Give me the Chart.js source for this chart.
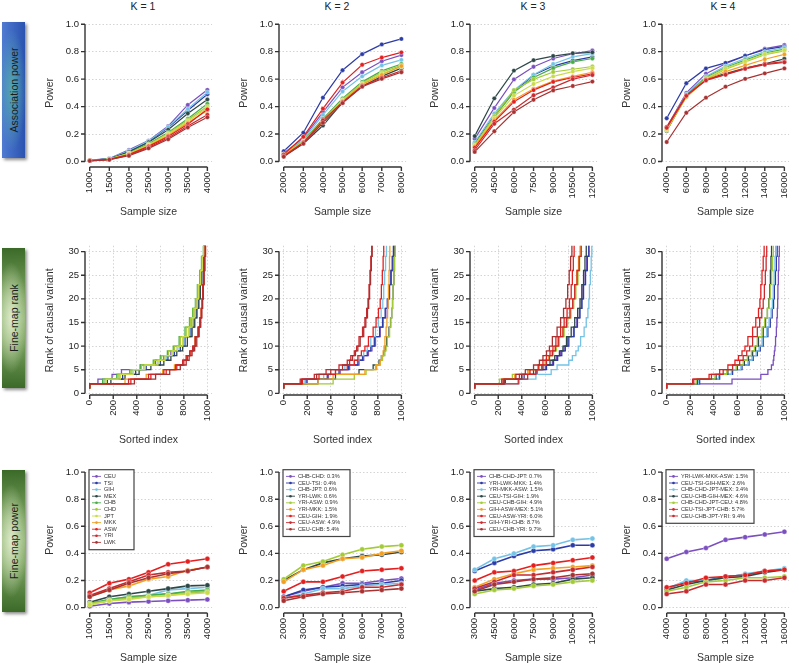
<!DOCTYPE html>
<html>
<head>
<meta charset="utf-8">
<script src="https://cdn.jsdelivr.net/npm/chart.js@4.4.0/dist/chart.umd.min.js"></script>
<style>
  html, body { margin: 0; padding: 0; background: #fff; overflow: hidden; }
  #fig { position: relative; width: 799px; height: 663px; font-family: "Liberation Sans", Arial, sans-serif; }
  .k { position: absolute; top: 0; font-size: 10.5px; color: #222; transform: translateX(-50%); white-space: nowrap; }
  .rowlab { position: absolute; left: 2px; width: 23px; box-shadow: 2px 2px 3px rgba(0,0,0,0.45); }
  .rowlab span { position: absolute; left: 50%; top: 50%; transform: translate(-50%, -50%) rotate(-90deg);
                 white-space: nowrap; font-size: 10.5px; color: #1c1c1c; }
  .blue { background: radial-gradient(ellipse 60% 45% at 45% 50%, rgba(90,190,165,0.75), rgba(90,190,165,0) 100%),
                      linear-gradient(to right, #4f7bd2, #2a52b0); }
  .green { background: radial-gradient(ellipse 70% 40% at 40% 50%, rgba(225,238,205,0.95), rgba(225,238,205,0) 100%),
                       linear-gradient(to bottom, #3b6a28 0%, #7ea562 35%, #8fb374 50%, #7ea562 65%, #3b6a28 100%); }
</style>
</head>
<body>
<div id="fig">
  <div class="rowlab blue" style="top:22px;height:136px"><span>Association power</span></div>
  <div class="rowlab green" style="top:248px;height:140px"><span>Fine-map rank</span></div>
  <div class="rowlab green" style="top:470px;height:142px"><span>Fine-map power</span></div>
  <div class="k" style="left:143px">K = 1</div>
  <div class="k" style="left:337px">K = 2</div>
  <div class="k" style="left:533px">K = 3</div>
  <div class="k" style="left:723px">K = 4</div>
</div>
<script>
// ---- data ----
const sizesK1 = [1000, 1500, 2000, 2500, 3000, 3500, 4000];
const sizesK2 = [2000, 3000, 4000, 5000, 6000, 7000, 8000];
const sizesK3 = [3000, 4500, 6000, 7500, 9000, 10500, 12000];
const sizesK4 = [4000, 6000, 8000, 10000, 12000, 14000, 16000];
const powerTicks = [0, 0.2, 0.4, 0.6, 0.8, 1.0];
const rankTicks = [0, 5, 10, 15, 20, 25, 30];
const indexTicks = [0, 200, 400, 600, 800, 1000];

const popNames = ['CEU', 'TSI', 'GIH', 'MEX', 'CHB', 'CHD', 'JPT', 'MKK', 'ASW', 'YRI', 'LWK'];
const popColors = ['#7b4fbf', '#2c3ca6', '#74c3e6', '#2e4848', '#46ad48', '#a3cb36', '#cbdc4a',
                   '#f2a024', '#e3201f', '#c92a2e', '#a83232'];

// association power, one row per population
const assocK1 = [
  [0.010, 0.022, 0.085, 0.152, 0.258, 0.412, 0.522],
  [0.008, 0.020, 0.072, 0.146, 0.248, 0.372, 0.490],
  [0.009, 0.021, 0.078, 0.150, 0.252, 0.382, 0.505],
  [0.008, 0.020, 0.070, 0.140, 0.232, 0.350, 0.452],
  [0.007, 0.018, 0.062, 0.130, 0.212, 0.312, 0.420],
  [0.007, 0.018, 0.060, 0.124, 0.204, 0.302, 0.402],
  [0.007, 0.017, 0.058, 0.120, 0.200, 0.292, 0.392],
  [0.006, 0.016, 0.052, 0.114, 0.190, 0.282, 0.372],
  [0.006, 0.016, 0.050, 0.110, 0.182, 0.272, 0.380],
  [0.005, 0.014, 0.046, 0.102, 0.172, 0.258, 0.340],
  [0.005, 0.013, 0.042, 0.096, 0.162, 0.248, 0.322]
];
const assocK2 = [
  [0.060, 0.170, 0.360, 0.540, 0.650, 0.730, 0.775],
  [0.075, 0.210, 0.465, 0.665, 0.782, 0.853, 0.893],
  [0.055, 0.160, 0.340, 0.510, 0.620, 0.700, 0.740],
  [0.040, 0.130, 0.262, 0.430, 0.548, 0.620, 0.680],
  [0.050, 0.150, 0.310, 0.460, 0.580, 0.660, 0.710],
  [0.050, 0.148, 0.300, 0.450, 0.570, 0.650, 0.700],
  [0.048, 0.145, 0.295, 0.445, 0.565, 0.640, 0.690],
  [0.045, 0.140, 0.290, 0.440, 0.560, 0.630, 0.695],
  [0.052, 0.180, 0.385, 0.575, 0.705, 0.757, 0.795],
  [0.040, 0.138, 0.300, 0.432, 0.550, 0.610, 0.660],
  [0.035, 0.130, 0.282, 0.425, 0.545, 0.602, 0.650]
];
const assocK3 = [
  [0.165, 0.390, 0.598, 0.690, 0.750, 0.785, 0.808],
  [0.130, 0.335, 0.510, 0.630, 0.695, 0.735, 0.762],
  [0.140, 0.350, 0.520, 0.632, 0.710, 0.762, 0.785],
  [0.185, 0.460, 0.662, 0.738, 0.768, 0.788, 0.795],
  [0.125, 0.325, 0.505, 0.612, 0.680, 0.725, 0.750],
  [0.120, 0.330, 0.520, 0.598, 0.652, 0.672, 0.692],
  [0.115, 0.315, 0.480, 0.565, 0.620, 0.655, 0.680],
  [0.110, 0.300, 0.450, 0.530, 0.585, 0.620, 0.650],
  [0.100, 0.290, 0.435, 0.520, 0.580, 0.612, 0.638],
  [0.082, 0.275, 0.378, 0.482, 0.540, 0.600, 0.630],
  [0.070, 0.220, 0.360, 0.450, 0.518, 0.550, 0.582]
];
const assocK4 = [
  [0.250, 0.500, 0.640, 0.712, 0.768, 0.822, 0.848],
  [0.315, 0.570, 0.678, 0.718, 0.770, 0.815, 0.838],
  [0.240, 0.490, 0.620, 0.695, 0.750, 0.800, 0.830],
  [0.222, 0.480, 0.600, 0.640, 0.680, 0.712, 0.748],
  [0.232, 0.482, 0.612, 0.685, 0.738, 0.790, 0.818],
  [0.228, 0.470, 0.600, 0.672, 0.725, 0.778, 0.805],
  [0.230, 0.475, 0.605, 0.678, 0.730, 0.782, 0.810],
  [0.240, 0.470, 0.595, 0.655, 0.700, 0.745, 0.780],
  [0.252, 0.482, 0.595, 0.635, 0.678, 0.712, 0.728],
  [0.245, 0.478, 0.590, 0.632, 0.675, 0.705, 0.722],
  [0.142, 0.355, 0.465, 0.545, 0.602, 0.642, 0.678]
];

// fine-map rank: sorted index at which each curve reaches each rank step
const rankSteps = [1, 2, 3, 4, 5, 6, 7, 8, 9, 10, 12, 14, 16, 18, 20, 23, 26, 29, 32];
const rankIdxK1 = [
  [0, 70, 190, 270, 430, 560, 630, 690, 745, 790, 840, 868, 892, 910, 925, 943, 958, 970, 980],
  [0, 150, 280, 390, 480, 600, 665, 720, 770, 810, 860, 885, 905, 922, 935, 950, 962, 974, 985],
  [0, 130, 250, 360, 460, 580, 650, 710, 760, 800, 850, 878, 900, 917, 930, 946, 960, 973, 985],
  [0, 180, 300, 420, 520, 630, 690, 740, 790, 830, 870, 893, 912, 928, 940, 953, 965, 976, 985],
  [0, 110, 230, 340, 430, 540, 600, 660, 710, 760, 810, 848, 875, 898, 915, 935, 950, 966, 980],
  [0, 120, 240, 350, 440, 550, 610, 670, 720, 770, 820, 855, 880, 902, 920, 940, 955, 968, 980],
  [0, 140, 260, 370, 470, 580, 640, 700, 745, 790, 840, 870, 893, 912, 925, 943, 958, 971, 982],
  [0, 300, 480, 620, 720, 790, 820, 850, 875, 895, 920, 935, 947, 955, 962, 970, 976, 983, 990],
  [0, 350, 520, 650, 740, 800, 830, 860, 882, 900, 925, 940, 950, 957, 963, 970, 977, 984, 990],
  [0, 330, 500, 630, 730, 790, 820, 850, 875, 895, 920, 936, 947, 955, 961, 968, 975, 982, 988],
  [0, 380, 560, 680, 770, 820, 845, 870, 892, 910, 930, 944, 953, 960, 966, 972, 978, 984, 990]
];
const rankIdxK2 = [
  [0, 200, 380, 480, 560, 640, 680, 720, 750, 780, 820, 845, 868, 885, 900, 915, 928, 937, 945],
  [0, 190, 370, 470, 550, 630, 670, 710, 740, 770, 815, 840, 862, 880, 895, 910, 922, 932, 940],
  [0, 180, 340, 440, 520, 600, 640, 680, 710, 740, 780, 805, 828, 842, 850, 858, 866, 873, 880],
  [0, 290, 440, 640, 760, 810, 830, 850, 862, 875, 895, 908, 918, 925, 930, 936, 941, 946, 950],
  [0, 420, 600, 700, 780, 820, 840, 860, 870, 880, 900, 910, 918, 925, 930, 936, 942, 948, 955],
  [0, 290, 420, 690, 790, 820, 832, 845, 852, 860, 870, 877, 883, 887, 890, 895, 899, 902, 905],
  [0, 160, 300, 440, 540, 600, 630, 660, 690, 720, 760, 785, 805, 820, 830, 838, 845, 850, 855],
  [0, 140, 260, 360, 470, 540, 570, 600, 620, 640, 670, 690, 705, 716, 725, 733, 740, 748, 755],
  [0, 150, 280, 400, 500, 560, 585, 610, 630, 650, 680, 698, 712, 722, 730, 738, 745, 752, 760]
];
const rankIdxK3 = [
  [0, 240, 400, 520, 600, 660, 695, 730, 760, 790, 840, 868, 890, 907, 920, 938, 952, 968, 985],
  [0, 260, 420, 530, 610, 670, 705, 740, 770, 800, 845, 873, 895, 912, 925, 942, 957, 971, 985],
  [0, 380, 520, 650, 700, 800, 830, 860, 880, 900, 930, 948, 962, 970, 975, 983, 990, 995, 1000],
  [0, 250, 400, 500, 580, 640, 680, 720, 750, 780, 820, 850, 875, 895, 910, 925, 937, 948, 960],
  [0, 210, 320, 450, 540, 600, 635, 670, 695, 720, 760, 790, 818, 842, 860, 878, 892, 903, 912],
  [0, 230, 340, 460, 550, 600, 630, 660, 685, 710, 750, 780, 810, 833, 850, 867, 882, 895, 905],
  [0, 230, 380, 470, 540, 580, 610, 640, 665, 690, 730, 760, 785, 805, 820, 830, 838, 845, 850],
  [0, 370, 450, 520, 570, 610, 635, 660, 685, 710, 750, 780, 810, 833, 850, 870, 888, 905, 918],
  [0, 250, 350, 430, 500, 550, 580, 610, 635, 660, 700, 730, 755, 775, 790, 803, 815, 826, 835]
];
const rankIdxK4 = [
  [0, 555, 800, 860, 890, 905, 910, 915, 920, 925, 932, 936, 940, 943, 945, 949, 953, 957, 960],
  [0, 280, 450, 560, 640, 700, 735, 770, 795, 820, 860, 880, 896, 908, 915, 924, 932, 939, 946],
  [0, 270, 440, 550, 630, 690, 725, 760, 785, 810, 850, 870, 887, 898, 905, 913, 920, 926, 932],
  [0, 260, 420, 520, 600, 660, 695, 730, 755, 780, 820, 840, 856, 867, 875, 881, 886, 891, 895],
  [0, 250, 410, 510, 590, 650, 685, 720, 745, 770, 810, 833, 855, 870, 880, 892, 900, 906, 912],
  [0, 230, 360, 450, 520, 580, 610, 640, 665, 690, 730, 757, 780, 792, 800, 810, 820, 828, 835],
  [0, 220, 380, 480, 560, 620, 650, 680, 705, 730, 770, 790, 808, 820, 830, 838, 845, 850, 853]
];

// fine-map power
const mixK2 = ['CHB-CHD: 0.3%', 'CEU-TSI: 0.4%', 'CHB-JPT: 0.6%', 'YRI-LWK: 0.6%', 'YRI-ASW: 0.9%',
               'YRI-MKK: 1.5%', 'CEU-GIH: 1.9%', 'CEU-ASW: 4.9%', 'CEU-CHB: 5.4%'];
const mixK3 = ['CHB-CHD-JPT: 0.7%', 'YRI-LWK-MKK: 1.4%', 'YRI-MKK-ASW: 1.5%', 'CEU-TSI-GIH: 1.9%',
               'CEU-CHB-GIH: 4.9%', 'GIH-ASW-MEX: 5.1%', 'CEU-ASW-YRI: 6.0%', 'GIH-YRI-CHB: 8.7%',
               'CEU-CHB-YRI: 9.7%'];
const mixK4 = ['YRI-LWK-MKK-ASW: 1.5%', 'CEU-TSI-GIH-MEX: 2.6%', 'CHB-CHD-JPT-MEX: 3.4%',
               'CEU-CHB-GIH-MEX: 4.6%', 'CHB-CHD-JPT-CEU: 4.8%', 'CEU-TSI-JPT-CHB: 5.7%',
               'CEU-CHB-JPT-YRI: 9.4%'];
const mixColors9 = ['#7b4fbf', '#2c3ca6', '#74c3e6', '#2e4848', '#a3cb36', '#f2a024', '#e3201f', '#c92a2e', '#a83232'];
const mixColors7 = ['#7b4fbf', '#2c3ca6', '#74c3e6', '#2e4848', '#a3cb36', '#e3201f', '#c92a2e'];

const fineK1 = [
  [0.010, 0.030, 0.040, 0.045, 0.050, 0.055, 0.060],
  [0.030, 0.050, 0.070, 0.090, 0.100, 0.110, 0.120],
  [0.030, 0.060, 0.080, 0.090, 0.130, 0.140, 0.150],
  [0.040, 0.080, 0.100, 0.120, 0.140, 0.160, 0.165],
  [0.030, 0.060, 0.080, 0.090, 0.100, 0.120, 0.130],
  [0.030, 0.050, 0.070, 0.080, 0.090, 0.110, 0.120],
  [0.020, 0.050, 0.060, 0.080, 0.090, 0.100, 0.110],
  [0.080, 0.130, 0.160, 0.210, 0.230, 0.275, 0.300],
  [0.110, 0.180, 0.210, 0.260, 0.320, 0.340, 0.360],
  [0.090, 0.140, 0.190, 0.240, 0.260, 0.270, 0.300],
  [0.080, 0.130, 0.180, 0.220, 0.250, 0.270, 0.300]
];
const fineK2 = [
  [0.080, 0.120, 0.150, 0.180, 0.180, 0.200, 0.215],
  [0.080, 0.130, 0.150, 0.160, 0.170, 0.180, 0.200],
  [0.070, 0.100, 0.140, 0.140, 0.160, 0.170, 0.180],
  [0.200, 0.280, 0.330, 0.360, 0.380, 0.390, 0.410],
  [0.210, 0.310, 0.340, 0.390, 0.430, 0.450, 0.460],
  [0.190, 0.280, 0.310, 0.360, 0.370, 0.400, 0.420],
  [0.120, 0.190, 0.190, 0.230, 0.270, 0.280, 0.290],
  [0.070, 0.090, 0.110, 0.120, 0.150, 0.150, 0.170],
  [0.050, 0.080, 0.100, 0.110, 0.120, 0.130, 0.140]
];
const fineK3 = [
  [0.130, 0.180, 0.200, 0.210, 0.210, 0.220, 0.240],
  [0.270, 0.330, 0.380, 0.420, 0.430, 0.460, 0.460],
  [0.280, 0.360, 0.400, 0.450, 0.460, 0.500, 0.510],
  [0.120, 0.140, 0.150, 0.170, 0.180, 0.210, 0.220],
  [0.100, 0.130, 0.140, 0.160, 0.170, 0.190, 0.200],
  [0.150, 0.210, 0.250, 0.280, 0.290, 0.300, 0.310],
  [0.200, 0.260, 0.270, 0.310, 0.330, 0.350, 0.370],
  [0.140, 0.190, 0.240, 0.240, 0.260, 0.280, 0.300],
  [0.120, 0.170, 0.190, 0.210, 0.220, 0.240, 0.250]
];
const fineK4 = [
  [0.360, 0.410, 0.440, 0.500, 0.520, 0.540, 0.560],
  [0.140, 0.190, 0.200, 0.230, 0.240, 0.270, 0.280],
  [0.140, 0.200, 0.200, 0.220, 0.250, 0.270, 0.290],
  [0.130, 0.170, 0.200, 0.220, 0.230, 0.260, 0.280],
  [0.120, 0.150, 0.190, 0.200, 0.220, 0.220, 0.230],
  [0.150, 0.180, 0.220, 0.230, 0.240, 0.270, 0.280],
  [0.100, 0.120, 0.170, 0.170, 0.200, 0.200, 0.220]
];

// ---- layout ----
const colLeft = [85, 279, 470, 662];
const rowTop = [15, 242, 463];
const rowH = [152, 153, 150];
const plotW = 133, yAxisW = 45, xAxisH = 54, padTop = 8, padRight = 6;
const fontFam = '"Liberation Sans", Arial, sans-serif';

Chart.defaults.font.family = fontFam;
Chart.defaults.color = '#222';

// R style axes: line only between first and last tick, ticks pointing out
const rAxes = {
  id: 'rAxes',
  afterDraw(chart) {
    const { ctx, chartArea: a, scales: { x, y } } = chart;
    const xp = x.ticks.map(t => x.getPixelForValue(t.value));
    const yp = y.ticks.map(t => y.getPixelForValue(t.value));
    ctx.save();
    ctx.strokeStyle = '#333';
    ctx.lineWidth = 1.4;
    ctx.beginPath();
    ctx.moveTo(xp[0], a.bottom); ctx.lineTo(xp[xp.length - 1], a.bottom);
    xp.forEach(p => { ctx.moveTo(p, a.bottom); ctx.lineTo(p, a.bottom + 4); });
    ctx.moveTo(a.left, yp[0]); ctx.lineTo(a.left, yp[yp.length - 1]);
    yp.forEach(p => { ctx.moveTo(a.left, p); ctx.lineTo(a.left - 4, p); });
    ctx.stroke();
    ctx.restore();
  }
};

// boxed legend inside the plot, top left
const boxLegend = {
  id: 'boxLegend',
  afterDatasetsDraw(chart, args, opts) {
    if (!opts.display) return;
    const { ctx, chartArea: a } = chart;
    const sets = chart.data.datasets;
    const rh = 6.6, x0 = a.left + 4, y0 = a.top + 3;
    const w = opts.width, h = 3.4 + sets.length * rh + 4;
    ctx.save();
    ctx.fillStyle = '#fff';
    ctx.fillRect(x0, y0, w, h);
    ctx.strokeStyle = '#444';
    ctx.lineWidth = 1.2;
    ctx.strokeRect(x0, y0, w, h);
    ctx.font = '5.6px ' + fontFam;
    ctx.textBaseline = 'middle';
    sets.forEach((d, i) => {
      const cy = y0 + 3.4 + rh * (i + 0.5);
      ctx.strokeStyle = d.borderColor;
      ctx.lineWidth = 0.9;
      ctx.beginPath(); ctx.moveTo(x0 + 3, cy); ctx.lineTo(x0 + 12, cy); ctx.stroke();
      ctx.fillStyle = d.borderColor;
      ctx.beginPath(); ctx.arc(x0 + 7.5, cy, 1.3, 0, Math.PI * 2); ctx.fill();
      ctx.fillStyle = '#333';
      ctx.fillText(d.label, x0 + 15, cy);
    });
    ctx.restore();
  }
};

function padRange(ticks) {
  const r = ticks[ticks.length - 1] - ticks[0];
  return [ticks[0] - 0.04 * r, ticks[ticks.length - 1] + 0.04 * r];
}

function powerSets(sizes, rows, names, colors, width, radius) {
  const n = rows.length;
  return rows.map((vals, i) => ({
    label: names[i],
    data: sizes.map((s, j) => ({ x: s, y: vals[j] })),
    borderColor: colors[i],
    backgroundColor: colors[i],
    pointBackgroundColor: colors[i],
    pointBorderColor: 'rgba(255,255,255,0.7)',
    pointBorderWidth: 0.5,
    pointRadius: radius,
    borderWidth: width,
    order: n - i
  }));
}

function rankSets(rows, names, colors) {
  const n = rows.length;
  return rows.map((idx, i) => ({
    label: names[i],
    data: idx.map((v, j) => ({ x: v, y: rankSteps[j] })),
    borderColor: colors[i],
    borderWidth: 1.3,
    pointRadius: 0,
    stepped: 'after',
    order: n - i
  }));
}

function addPanel(col, row, cfg) {
  const fig = document.getElementById('fig');
  const w = yAxisW + plotW + padRight;
  const h = padTop + rowH[row] + xAxisH;
  const canvas = document.createElement('canvas');
  canvas.width = w; canvas.height = h;
  canvas.style.cssText = `position:absolute;left:${colLeft[col] - yAxisW}px;top:${rowTop[row] - padTop}px;width:${w}px;height:${h}px`;
  fig.appendChild(canvas);
  const [xmin, xmax] = cfg.xRange;
  const grid = { drawTicks: false, color: '#c9c9c9', lineWidth: 0.8 };
  new Chart(canvas, {
    type: 'line',
    data: { datasets: cfg.datasets },
    options: {
      responsive: false,
      animation: false,
      layout: { padding: { top: padTop, right: padRight, left: 0, bottom: 0 } },
      plugins: {
        legend: { display: false },
        tooltip: { enabled: false },
        boxLegend: { display: !!cfg.legendWidth, width: cfg.legendWidth }
      },
      scales: {
        x: {
          type: 'linear', bounds: 'data', min: xmin, max: xmax,
          afterBuildTicks: s => { s.ticks = cfg.xTicks.map(v => ({ value: v })); },
          afterFit: s => { s.height = xAxisH; },
          grid: Object.assign({ display: cfg.vGrid }, grid),
          border: { display: false, dash: [1.5, 2] },
          ticks: { autoSkip: false, minRotation: 90, maxRotation: 90, padding: 5,
                   font: { size: 9.5 }, callback: v => String(v) },
          title: { display: true, text: cfg.xTitle, color: '#333', font: { size: 10.5 },
                   padding: { top: 2, bottom: 3 } }
        },
        y: {
          type: 'linear', bounds: 'data', min: cfg.yRange[0], max: cfg.yRange[1],
          afterBuildTicks: s => { s.ticks = cfg.yTicks.map(v => ({ value: v })); },
          afterFit: s => { s.width = yAxisW; },
          grid: grid,
          border: { display: false, dash: [1.5, 2] },
          ticks: { autoSkip: false, padding: 6, font: { size: 9.5 }, callback: cfg.yFmt },
          title: { display: true, text: cfg.yTitle, color: '#333', font: { size: 10.5 },
                   padding: { top: 4, bottom: 0 } }
        }
      }
    },
    plugins: [rAxes, boxLegend]
  });
}

const fmt1 = v => v.toFixed(1);
const fmt0 = v => String(v);

// row 1: association power
[[sizesK1, assocK1], [sizesK2, assocK2], [sizesK3, assocK3], [sizesK4, assocK4]].forEach(([sz, rows], c) => {
  addPanel(c, 0, {
    datasets: powerSets(sz, rows, popNames, popColors, 1.2, 2.2),
    xTicks: sz, xRange: padRange(sz), yTicks: powerTicks, yRange: [-0.04, 1.04],
    yFmt: fmt1, xTitle: 'Sample size', yTitle: 'Power', vGrid: false
  });
});

// row 2: fine-map rank
[[rankIdxK1, popNames, popColors], [rankIdxK2, mixK2, mixColors9],
 [rankIdxK3, mixK3, mixColors9], [rankIdxK4, mixK4, mixColors7]].forEach(([rows, names, cols], c) => {
  addPanel(c, 1, {
    datasets: rankSets(rows, names, cols),
    xTicks: indexTicks, xRange: padRange(indexTicks), yTicks: rankTicks, yRange: [-0.35, 31.25],
    yFmt: fmt0, xTitle: 'Sorted index', yTitle: 'Rank of causal variant', vGrid: true
  });
});

// row 3: fine-map power
[[sizesK1, fineK1, popNames, popColors, 45], [sizesK2, fineK2, mixK2, mixColors9, 67],
 [sizesK3, fineK3, mixK3, mixColors9, 80], [sizesK4, fineK4, mixK4, mixColors7, 88]].forEach(([sz, rows, names, cols, lw], c) => {
  addPanel(c, 2, {
    datasets: powerSets(sz, rows, names, cols, 1.6, 2.5),
    xTicks: sz, xRange: padRange(sz), yTicks: powerTicks, yRange: [-0.04, 1.04],
    yFmt: fmt1, xTitle: 'Sample size', yTitle: 'Power', vGrid: false, legendWidth: lw
  });
});
</script>
</body>
</html>
